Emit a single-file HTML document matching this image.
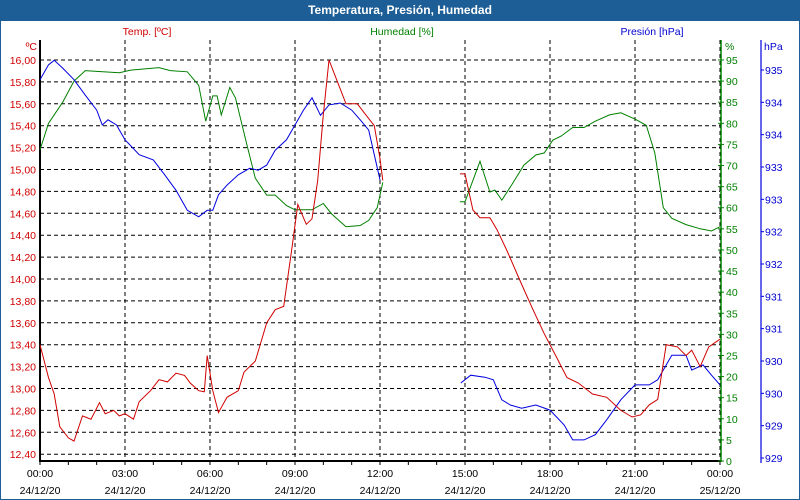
<!DOCTYPE html>
<html><head><meta charset="utf-8">
<style>
body{margin:0;width:800px;height:500px;overflow:hidden;background:#fff;font-family:"Liberation Sans",sans-serif;}
#frame{position:absolute;left:0;top:0;width:798px;height:498px;border:1px solid #1d5e96;}
#titlebar{position:absolute;left:0;top:0;width:800px;height:21px;background:#1d5e96;color:#fff;font-weight:bold;font-size:12px;text-align:center;line-height:21px;}
svg{position:absolute;left:0;top:0}
</style></head>
<body>
<div id="frame"></div>
<div id="titlebar">Temperatura, Presión, Humedad</div>
<svg id="chart" width="800" height="500" font-family="Liberation Sans, sans-serif" font-size="10.5"></svg>
<script>
const tempTicks=[12.4,12.6,12.8,13.0,13.2,13.4,13.6,13.8,14.0,14.2,14.4,14.6,14.8,15.0,15.2,15.4,15.6,15.8,16.0];
const humTicks=[0,5,10,15,20,25,30,35,40,45,50,55,60,65,70,75,80,85,90,95];
const presTickVals=[929,929.5,930,930.5,931,931.5,932,932.5,933,933.5,934,934.5,935];
const presTickLabels=["929","929","930","930","931","931","932","932","933","933","934","934","935"];
const timeLabels=["00:00","03:00","06:00","09:00","12:00","15:00","18:00","21:00","00:00"];
const dateLabels=["24/12/20","24/12/20","24/12/20","24/12/20","24/12/20","24/12/20","24/12/20","24/12/20","25/12/20"];
const tempSeg1=[[0,13.40],[0.3,13.1],[0.5,12.95],[0.7,12.65],[1.0,12.55],[1.2,12.52],[1.5,12.75],[1.8,12.72],[2.1,12.87],[2.3,12.77],[2.6,12.80],[2.8,12.75],[3.0,12.77],[3.3,12.72],[3.5,12.88],[3.9,12.98],[4.2,13.08],[4.5,13.06],[4.8,13.14],[5.1,13.12],[5.3,13.05],[5.6,12.98],[5.8,12.97],[5.9,13.30],[6.1,12.98],[6.3,12.78],[6.6,12.92],[7.0,12.98],[7.2,13.15],[7.6,13.25],[8.0,13.60],[8.3,13.72],[8.6,13.75],[8.9,14.30],[9.1,14.68],[9.4,14.50],[9.6,14.55],[9.8,14.90],[10.0,15.50],[10.2,16.00],[10.5,15.80],[10.8,15.60],[11.2,15.60],[11.5,15.50],[11.8,15.40],[12.0,15.10],[12.1,14.90]];
const tempSeg2=[[14.82,14.96],[15.0,14.96],[15.28,14.63],[15.53,14.56],[15.88,14.56],[16.13,14.45],[16.48,14.26],[17.0,13.95],[17.4,13.72],[17.8,13.50],[18.2,13.30],[18.6,13.10],[19.0,13.05],[19.5,12.95],[20.0,12.92],[20.5,12.80],[20.9,12.74],[21.2,12.76],[21.5,12.85],[21.8,12.90],[22.1,13.40],[22.5,13.38],[22.8,13.30],[23.0,13.35],[23.3,13.20],[23.6,13.38],[24,13.45]];
const humSeg1=[[0,73.7],[0.3,80],[0.8,85],[1.2,90],[1.6,92.5],[2.0,92.3],[2.8,92],[3.2,92.6],[4.2,93.2],[4.6,92.5],[5.2,92.2],[5.6,89],[5.85,80.5],[6.1,86.5],[6.25,86.5],[6.4,82],[6.7,88.5],[6.9,86],[7.3,75],[7.6,67],[8.0,63],[8.3,63],[8.7,60.5],[9.0,59.5],[9.6,59.5],[10.0,61],[10.3,58.5],[10.8,55.5],[11.3,55.8],[11.6,57],[11.9,60],[12.1,66]];
const humSeg2=[[14.82,61.4],[15.0,61.4],[15.53,71],[15.88,63.7],[16.05,64.2],[16.3,61.8],[16.65,65.4],[17.08,70.1],[17.5,72.5],[17.8,73],[18.1,76],[18.4,77],[18.8,79],[19.2,79],[19.6,80.5],[20.1,82],[20.5,82.5],[21.0,81],[21.4,79.5],[21.7,73],[22.0,60],[22.3,57.5],[22.8,56],[23.3,55],[23.7,54.5],[24,55.5]];
const presSeg1=[[0,934.85],[0.3,935.08],[0.5,935.15],[0.8,935.03],[1.2,934.85],[1.6,934.61],[2.0,934.38],[2.2,934.15],[2.4,934.23],[2.7,934.15],[3.0,933.92],[3.5,933.69],[4.0,933.61],[4.4,933.38],[4.8,933.14],[5.2,932.83],[5.6,932.73],[5.9,932.83],[6.1,932.83],[6.3,933.07],[6.6,933.22],[7.0,933.38],[7.4,933.48],[7.7,933.45],[8.0,933.53],[8.3,933.76],[8.7,933.92],[9.0,934.15],[9.3,934.38],[9.6,934.57],[9.9,934.30],[10.2,934.46],[10.6,934.49],[11.0,934.38],[11.3,934.23],[11.6,934.07],[12.0,933.30]];
const presSeg2=[[14.85,930.16],[15.2,930.28],[15.7,930.25],[16.0,930.21],[16.3,929.90],[16.6,929.82],[17.0,929.77],[17.5,929.82],[18.0,929.74],[18.5,929.51],[18.8,929.28],[19.2,929.28],[19.6,929.36],[20.0,929.59],[20.5,929.90],[21.0,930.13],[21.5,930.13],[21.8,930.21],[22.3,930.59],[22.8,930.59],[23.0,930.36],[23.4,930.44],[23.7,930.28],[24,930.13]];

const L=40,R=720,T=40,B=461;
const xH=h=>L+h*(R-L)/24;
const yT=v=>60+(16-v)*109.5;
const yH=v=>461-v*(401/95);
const yP=v=>458-(v-929)*(388/6);
const svg=document.getElementById('chart');
const NS='http://www.w3.org/2000/svg';
function mk(tag,attrs,parent){const e=document.createElementNS(NS,tag);for(const k in attrs)e.setAttribute(k,attrs[k]);(parent||svg).appendChild(e);return e;}
function txt(s,x,y,fill,anchor){const t=mk('text',{x:x,y:y,fill:fill,'text-anchor':anchor||'start'});t.textContent=s;return t;}

tempTicks.forEach(v=>{const g=mk('line',{x1:L,x2:R,y1:yT(v),y2:yT(v),stroke:'#000','stroke-dasharray':'4,3'});

});
timeLabels.forEach((s,i)=>{if(i==0)return;const g=mk('line',{x1:xH(i*3),x2:xH(i*3),y1:T,y2:B,stroke:'#000','stroke-dasharray':'4,3'});

});
let a=mk('line',{x1:L,x2:L,y1:T,y2:B+1,stroke:'#000','stroke-width':2});
a=mk('line',{x1:L,x2:R,y1:B,y2:B,stroke:'#000','stroke-width':2});
a=mk('line',{x1:721,x2:721,y1:T,y2:B+1,stroke:'#008000','stroke-width':1.5});
a=mk('line',{x1:761,x2:761,y1:T,y2:B+2,stroke:'#0000e0','stroke-width':1.2});
for(let h=0;h<=24;h++){const t=mk('line',{x1:xH(h),x2:xH(h),y1:B,y2:B+4,stroke:'#000'});}
tempTicks.forEach(v=>{const t=txt(v.toFixed(2).replace('.',','),36,yT(v)+4,'#d00000','end');});
humTicks.forEach(v=>{const t=txt(String(v),726,yH(v)+4,'#008000');
const k=mk('line',{x1:718,x2:724,y1:yH(v),y2:yH(v),stroke:'#008000'});});
presTickVals.forEach((v,i)=>{const t=txt(presTickLabels[i],765,yP(v)+4,'#0000d0');
const k=mk('line',{x1:761,x2:764,y1:yP(v),y2:yP(v),stroke:'#0000e0'});});
timeLabels.forEach((s,i)=>{const x=Math.min(xH(i*3),720);let t=txt(s,x,477,'#000','middle');
t=txt(dateLabels[i],x,494,'#000','middle');});
let h=txt('Temp. [ºC]',147,35,'#d00000','middle');
h=txt('Humedad [%]',402,35,'#008000','middle');
h=txt('Presión [hPa]',652,35,'#0000d0','middle');
h=txt('ºC',37,50,'#d00000','end');
h=txt('%',725,50,'#008000');
h=txt('hPa',764,50,'#0000d0');
function line(data,yf,color,name){const p=mk('polyline',{points:data.map(d=>xH(d[0]).toFixed(1)+','+yf(d[1]).toFixed(1)).join(' '),fill:'none',stroke:color,'stroke-width':1});

}
line(humSeg1,yH,'#008000','humidity-line-1');line(humSeg2,yH,'#008000','humidity-line-2');
line(presSeg1,yP,'#0000e0','pressure-line-1');line(presSeg2,yP,'#0000e0','pressure-line-2');
line(tempSeg1,yT,'#d00000','temp-line-1');line(tempSeg2,yT,'#d00000','temp-line-2');
</script>
</body></html>
